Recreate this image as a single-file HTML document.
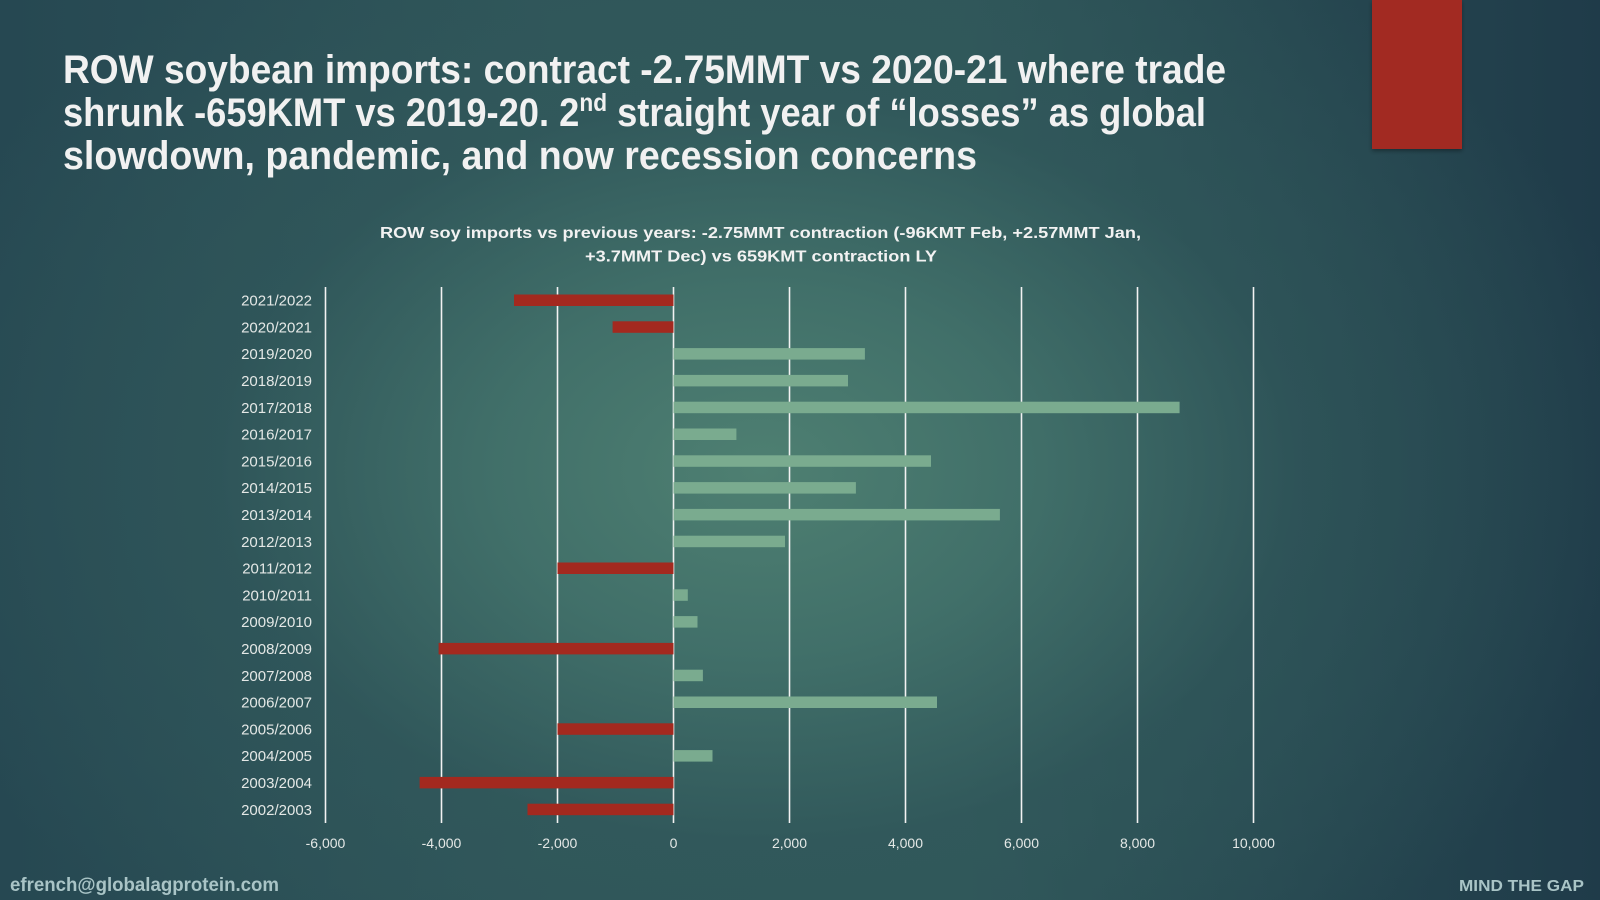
<!DOCTYPE html>
<html>
<head>
<meta charset="utf-8">
<style>
html,body{margin:0;padding:0;width:1600px;height:900px;overflow:hidden;}
body{background:#2c5058;}
#bg{position:absolute;left:0;top:0;width:1600px;height:900px;
background:
 radial-gradient(ellipse 900px 620px at 760px 470px, rgba(80,130,115,0.95) 0%, rgba(68,116,108,0.85) 30%, rgba(50,90,92,0.6) 60%, rgba(35,62,75,0) 100%),
 linear-gradient(90deg, #264852 0%, #2f5559 35%, #2f5659 60%, #1f3b49 100%);}
svg{position:absolute;left:0;top:0;}
</style>
</head>
<body>
<div id="bg"></div>
<svg width="1600" height="900" viewBox="0 0 1600 900" xmlns="http://www.w3.org/2000/svg">
  <defs>
    <filter id="sh" x="-20%" y="-20%" width="140%" height="140%">
      <feDropShadow dx="0" dy="2" stdDeviation="2" flood-color="#000" flood-opacity="0.35"/>
    </filter>
  </defs>

  <!-- red accent -->
  <rect x="1372" y="0" width="90" height="149" fill="#a22a20" filter="url(#sh)"/>

  <!-- main title -->
  <g font-family="'Liberation Sans', sans-serif" font-weight="bold" font-size="40" fill="#f1f1f1">
    <text x="63" y="83" textLength="1163" lengthAdjust="spacingAndGlyphs">ROW soybean imports: contract -2.75MMT vs 2020-21 where trade</text>
    <text x="63" y="126" textLength="1143" lengthAdjust="spacingAndGlyphs">shrunk -659KMT vs 2019-20. 2<tspan font-size="25" dy="-15">nd</tspan><tspan dy="15"> straight year of “losses” as global</tspan></text>
    <text x="63" y="169" textLength="914" lengthAdjust="spacingAndGlyphs">slowdown, pandemic, and now recession concerns</text>
  </g>

  <!-- chart title -->
  <g font-family="'Liberation Sans', sans-serif" font-weight="bold" font-size="16" fill="#f2f2f2">
    <text x="380" y="238" textLength="761" lengthAdjust="spacingAndGlyphs">ROW soy imports vs previous years: -2.75MMT contraction (-96KMT Feb, +2.57MMT Jan,</text>
    <text x="585" y="261.5" textLength="352" lengthAdjust="spacingAndGlyphs">+3.7MMT Dec) vs 659KMT contraction LY</text>
  </g>

  <!-- gridlines -->
  <g stroke="#f2f2f2" stroke-width="1.6">
    <line x1="325.5" y1="287" x2="325.5" y2="823"/>
    <line x1="441.5" y1="287" x2="441.5" y2="823"/>
    <line x1="557.5" y1="287" x2="557.5" y2="823"/>
    <line x1="673.5" y1="287" x2="673.5" y2="823"/>
    <line x1="789.5" y1="287" x2="789.5" y2="823"/>
    <line x1="905.5" y1="287" x2="905.5" y2="823"/>
    <line x1="1021.5" y1="287" x2="1021.5" y2="823"/>
    <line x1="1137.5" y1="287" x2="1137.5" y2="823"/>
    <line x1="1253.5" y1="287" x2="1253.5" y2="823"/>
  </g>

  <!-- bars: center y = 300.3 + i*26.8, height 11.5 -->
  <g>
    <rect x="514.0" y="294.5" width="159.5" height="11.5" fill="#a3291f"/>
    <rect x="612.6" y="321.3" width="60.9" height="11.5" fill="#a3291f"/>
    <rect x="673.5" y="348.1" width="191.4" height="11.5" fill="#7aab8f"/>
    <rect x="673.5" y="374.9" width="174.5" height="11.5" fill="#7aab8f"/>
    <rect x="673.5" y="401.7" width="506.1" height="11.5" fill="#7aab8f"/>
    <rect x="673.5" y="428.5" width="62.9" height="11.5" fill="#7aab8f"/>
    <rect x="673.5" y="455.3" width="257.5" height="11.5" fill="#7aab8f"/>
    <rect x="673.5" y="482.1" width="182.4" height="11.5" fill="#7aab8f"/>
    <rect x="673.5" y="508.9" width="326.4" height="11.5" fill="#7aab8f"/>
    <rect x="673.5" y="535.7" width="111.5" height="11.5" fill="#7aab8f"/>
    <rect x="557.5" y="562.5" width="116.0" height="11.5" fill="#a3291f"/>
    <rect x="673.5" y="589.3" width="14.3" height="11.5" fill="#7aab8f"/>
    <rect x="673.5" y="616.1" width="24.0" height="11.5" fill="#7aab8f"/>
    <rect x="438.6" y="642.9" width="234.9" height="11.5" fill="#a3291f"/>
    <rect x="673.5" y="669.7" width="29.4" height="11.5" fill="#7aab8f"/>
    <rect x="673.5" y="696.5" width="263.5" height="11.5" fill="#7aab8f"/>
    <rect x="557.5" y="723.3" width="116.0" height="11.5" fill="#a3291f"/>
    <rect x="673.5" y="750.1" width="39.0" height="11.5" fill="#7aab8f"/>
    <rect x="419.6" y="776.9" width="253.9" height="11.5" fill="#a3291f"/>
    <rect x="527.5" y="803.7" width="146.0" height="11.5" fill="#a3291f"/>
  </g>

  <!-- category labels -->
  <g font-family="'Liberation Sans', sans-serif" font-size="15" fill="#e4e8e6" text-anchor="end">
    <text x="312" y="305.6">2021/2022</text>
    <text x="312" y="332.4">2020/2021</text>
    <text x="312" y="359.2">2019/2020</text>
    <text x="312" y="386.0">2018/2019</text>
    <text x="312" y="412.8">2017/2018</text>
    <text x="312" y="439.6">2016/2017</text>
    <text x="312" y="466.4">2015/2016</text>
    <text x="312" y="493.2">2014/2015</text>
    <text x="312" y="520.0">2013/2014</text>
    <text x="312" y="546.8">2012/2013</text>
    <text x="312" y="573.6">2011/2012</text>
    <text x="312" y="600.4">2010/2011</text>
    <text x="312" y="627.2">2009/2010</text>
    <text x="312" y="654.0">2008/2009</text>
    <text x="312" y="680.8">2007/2008</text>
    <text x="312" y="707.6">2006/2007</text>
    <text x="312" y="734.4">2005/2006</text>
    <text x="312" y="761.2">2004/2005</text>
    <text x="312" y="788.0">2003/2004</text>
    <text x="312" y="814.8">2002/2003</text>
  </g>

  <!-- x tick labels -->
  <g font-family="'Liberation Sans', sans-serif" font-size="14" fill="#e4e8e6" text-anchor="middle">
    <text x="325.5" y="848">-6,000</text>
    <text x="441.5" y="848">-4,000</text>
    <text x="557.5" y="848">-2,000</text>
    <text x="673.5" y="848">0</text>
    <text x="789.5" y="848">2,000</text>
    <text x="905.5" y="848">4,000</text>
    <text x="1021.5" y="848">6,000</text>
    <text x="1137.5" y="848">8,000</text>
    <text x="1253.5" y="848">10,000</text>
  </g>

  <!-- footer -->
  <g font-family="'Liberation Sans', sans-serif" font-weight="bold" fill="#a9c4c6">
    <text x="10" y="891" font-size="19" textLength="269" lengthAdjust="spacingAndGlyphs">efrench@globalagprotein.com</text>
    <text x="1459" y="891" font-size="16" textLength="125" lengthAdjust="spacingAndGlyphs">MIND THE GAP</text>
  </g>
</svg>
</body>
</html>
